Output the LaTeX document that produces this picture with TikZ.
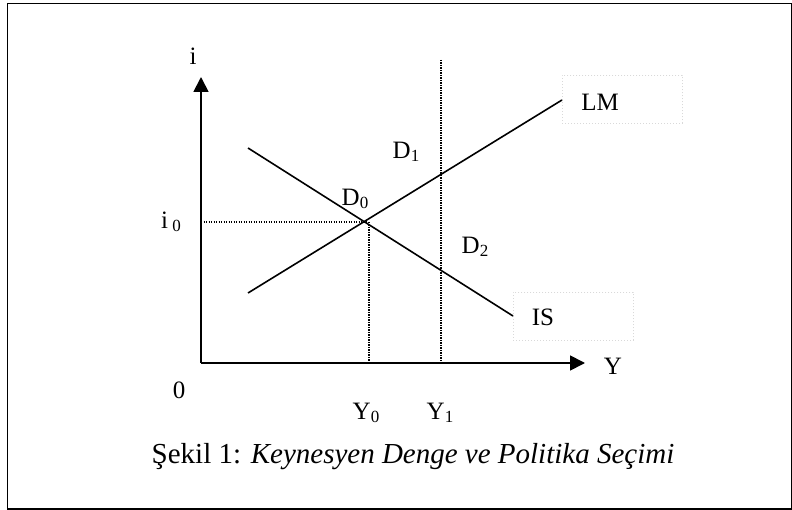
\documentclass[tikz,border=0pt]{standalone}
\usepackage{fontspec}
\setmainfont{Liberation Serif}
\usetikzlibrary{arrows.meta}
\newcommand{\subn}[1]{\raisebox{-0.3ex}{\fontsize{17}{19}\selectfont #1}}
\begin{document}
\begin{tikzpicture}[x=1pt,y=-1pt,
  axis/.style={line width=1.8pt,-{Triangle[length=15pt,width=15pt]}},
  curve/.style={line width=1.6pt},
  guide/.style={line width=1.2pt,dash pattern=on 1.2pt off 1.3pt},
  lbl/.style={font=\fontsize{25}{28}\selectfont, inner sep=0pt},
  tagbox/.style={draw=black!15, line width=0.8pt, dash pattern=on 1pt off 2pt, minimum width=120pt, minimum height=48pt, inner sep=0pt, anchor=north west}]
\useasboundingbox (0,0) rectangle (792,510);
\draw[line width=1.5pt] (7.5,3.5) rectangle (791.5,509);

% tag boxes
\node[tagbox] (lmbox) at (562,75) {};
\node[tagbox] (isbox) at (513,292) {};

% axes
\coordinate (O) at (201,363);
\coordinate (ytip) at (201,77);
\coordinate (xtip) at (585,363);
\draw[axis] (O) -- (ytip);
\draw[axis] (O) -- (xtip);

% curves
\coordinate (is1) at (248,148);
\coordinate (is2) at (513,316);
\coordinate (lm1) at (248,293);
\coordinate (lm2) at (562,100);
\draw[curve] (is1) -- (is2);
\draw[curve] (lm1) -- (lm2);

% guides
\coordinate (E) at (367,222);
\coordinate (Ei) at (201,222);
\coordinate (E0) at (369,222);
\coordinate (E0b) at (369,363);
\coordinate (Y1t) at (441,60);
\coordinate (Y1b) at (441,363);
\draw[guide] (Ei) -- (E);
\draw[guide] (E0) -- (E0b);
\draw[guide] (Y1t) -- (Y1b);

% labels
\node[lbl] (li) at (193,56) {i};
\node[lbl] (lY) at (613,366) {Y};
\node[lbl] (l0) at (179,390) {0};
\node[lbl] (li0) at (171,222) {i\,\subn{0}};
\node[lbl] (lLM) at (600,102) {LM};
\node[lbl] (lIS) at (543,317) {IS};
\node[lbl] (lD0) at (355,199) {D\subn{0}};
\node[lbl] (lD1) at (406,152) {D\subn{1}};
\node[lbl] (lD2) at (475,247) {D\subn{2}};
\node[lbl] (lY0) at (366,413) {Y\subn{0}};
\node[lbl] (lY1) at (440,413) {Y\subn{1}};
\node[inner sep=0pt, font=\fontsize{29}{32}\selectfont] (cap) at (413,457) {Şekil 1: \textit{Keynesyen Denge ve Politika Seçimi}};
\end{tikzpicture}
\end{document}
